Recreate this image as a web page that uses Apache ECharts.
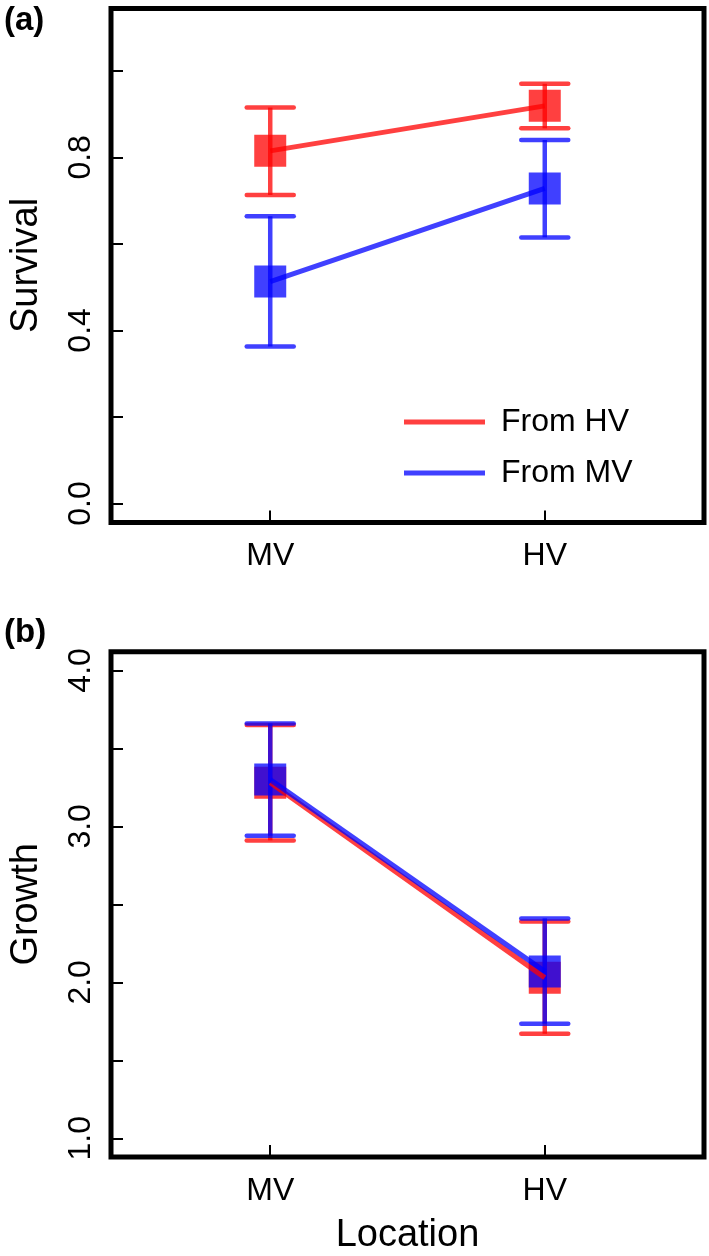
<!DOCTYPE html>
<html>
<head>
<meta charset="utf-8">
<script src="https://cdn.jsdelivr.net/npm/echarts@6/dist/echarts.min.js"></script>
<style>
html,body{margin:0;padding:0;background:#fff;}
#chart{width:709px;height:1256px;}
</style>
</head>
<body>
<div id="chart"></div>
<script>
// ---- data ----
const categories = ['MV', 'HV'];
const seriesNames = ['From HV', 'From MV'];

const survivalFromHV = [0.815, 0.919];
const survivalFromHVLo = [0.713, 0.867];
const survivalFromHVHi = [0.915, 0.970];
const survivalFromMV = [0.513, 0.728];
const survivalFromMVLo = [0.363, 0.615];
const survivalFromMVHi = [0.664, 0.840];

const growthFromHV = [3.28, 2.03];
const growthFromHVLo = [2.91, 1.67];
const growthFromHVHi = [3.65, 2.39];
const growthFromMV = [3.30, 2.07];
const growthFromMVLo = [2.94, 1.735];
const growthFromMVHi = [3.66, 2.41];

const survivalTicks = [0, 0.2, 0.4, 0.6, 0.8, 1.0];
const survivalLabels = [0, 0.4, 0.8];
const growthTicks = [1, 1.5, 2, 2.5, 3, 3.5, 4];
const growthLabels = [1, 2, 3, 4];

// ---- helpers ----
const FONT = "'Liberation Sans', Arial, Helvetica, sans-serif";
const RED = '#ff0000';
const BLUE = '#0000ff';
const ALPHA = 0.75;
const xPos = categories.map((c, i) => i + 1);

function rows(mean, lo, hi) {
  return xPos.map((x, i) => [x, mean[i], lo[i], hi[i]]);
}

function errRender(color) {
  return function (params, api) {
    const x = api.value(0), m = api.value(1), lo = api.value(2), hi = api.value(3);
    const pm = api.coord([x, m]);
    const pl = api.coord([x, lo]);
    const ph = api.coord([x, hi]);
    const lw = 4.5, capHalf = 23.5, half = 16;
    const st = {stroke: color, lineWidth: lw, opacity: ALPHA, lineCap: 'round'};
    return {
      type: 'group',
      children: [
        {type: 'rect', shape: {x: pm[0] - half, y: pm[1] - half, width: 2 * half, height: 2 * half},
          style: {fill: color, opacity: ALPHA}},
        {type: 'line', shape: {x1: pl[0], y1: pl[1], x2: ph[0], y2: ph[1]}, style: Object.assign({}, st, {lineCap: 'butt'})},
        {type: 'line', shape: {x1: pl[0] - capHalf, y1: pl[1], x2: pl[0] + capHalf, y2: pl[1]}, style: st},
        {type: 'line', shape: {x1: ph[0] - capHalf, y1: ph[1], x2: ph[0] + capHalf, y2: ph[1]}, style: st}
      ]
    };
  };
}

function xAxisCfg(gi) {
  return {
    gridIndex: gi, type: 'value', min: 0.42, max: 2.58,
    axisLine: {show: false, onZero: false}, splitLine: {show: false},
    axisTick: {show: true, inside: true, length: 12, customValues: xPos, lineStyle: {color: '#000', width: 2}},
    axisLabel: {customValues: xPos, formatter: v => categories[Math.round(v) - 1], fontSize: 32,
      color: '#000', margin: 18, fontFamily: FONT},
    name: gi === 1 ? 'Location' : '', nameLocation: 'middle', nameGap: 60,
    nameTextStyle: {fontSize: 38, color: '#000', fontFamily: FONT}
  };
}

function yAxisCfg(gi, min, max, ticks, labels, name) {
  return {
    gridIndex: gi, type: 'value', min: min, max: max,
    axisLine: {show: false, onZero: false}, splitLine: {show: false},
    axisTick: {show: true, inside: true, length: 12, customValues: ticks, lineStyle: {color: '#000', width: 2}},
    axisLabel: {customValues: labels, formatter: v => Number(v).toFixed(1), rotate: 90, fontSize: 32,
      color: '#000', margin: 14, fontFamily: FONT},
    name: name, nameLocation: 'middle', nameGap: 65,
    nameTextStyle: {fontSize: 38, color: '#000', fontFamily: FONT}
  };
}

function lineSeries(name, gi, values, color) {
  return {
    name: name, type: 'line', xAxisIndex: gi, yAxisIndex: gi,
    data: xPos.map((x, i) => [x, values[i]]),
    symbol: 'none', color: color,
    lineStyle: {color: color, width: 5, opacity: ALPHA},
    itemStyle: {color: color, opacity: ALPHA},
    z: 3
  };
}

function errSeries(name, gi, data, color) {
  return {
    name: name, type: 'custom', xAxisIndex: gi, yAxisIndex: gi,
    data: data, renderItem: errRender(color), color: color,
    encode: {x: 0, y: [1, 2, 3]}, z: 2
  };
}

const chart = echarts.init(document.getElementById('chart'), null, {renderer: 'canvas'});
chart.setOption({
  animation: false,
  backgroundColor: '#fff',
  textStyle: {fontFamily: FONT},
  grid: [
    {left: 106, top: 8.5, width: 598, height: 514, show: true, borderColor: '#000', borderWidth: 5, backgroundColor: 'transparent'},
    {left: 106, top: 651.7, width: 598, height: 515, show: true, borderColor: '#000', borderWidth: 5, backgroundColor: 'transparent'}
  ],
  xAxis: [xAxisCfg(0), xAxisCfg(1)],
  yAxis: [
    yAxisCfg(0, -0.044, 1.144, survivalTicks, survivalLabels, 'Survival'),
    yAxisCfg(1, 0.88, 4.12, growthTicks, growthLabels, 'Growth')
  ],
  legend: {
    data: seriesNames, orient: 'vertical', left: 399, top: 397,
    icon: 'rect', itemWidth: 81, itemHeight: 5, itemGap: 11,
    selectedMode: false,
    itemStyle: {opacity: ALPHA},
    textStyle: {fontSize: 32, color: '#000', fontFamily: FONT, lineHeight: 40, padding: [0, 0, 0, 11]}
  },
  graphic: [
    {type: 'text', left: 4, top: 4, style: {text: '(a)', font: 'bold 33px ' + FONT, fill: '#000'}},
    {type: 'text', left: 4, top: 616, style: {text: '(b)', font: 'bold 33px ' + FONT, fill: '#000'}}
  ],
  series: [
    errSeries('From HV', 0, rows(survivalFromHV, survivalFromHVLo, survivalFromHVHi), RED),
    lineSeries('From HV', 0, survivalFromHV, RED),
    errSeries('From MV', 0, rows(survivalFromMV, survivalFromMVLo, survivalFromMVHi), BLUE),
    lineSeries('From MV', 0, survivalFromMV, BLUE),
    errSeries('From HV', 1, rows(growthFromHV, growthFromHVLo, growthFromHVHi), RED),
    lineSeries('From HV', 1, growthFromHV, RED),
    errSeries('From MV', 1, rows(growthFromMV, growthFromMVLo, growthFromMVHi), BLUE),
    lineSeries('From MV', 1, growthFromMV, BLUE)
  ]
});
</script>
</body>
</html>
